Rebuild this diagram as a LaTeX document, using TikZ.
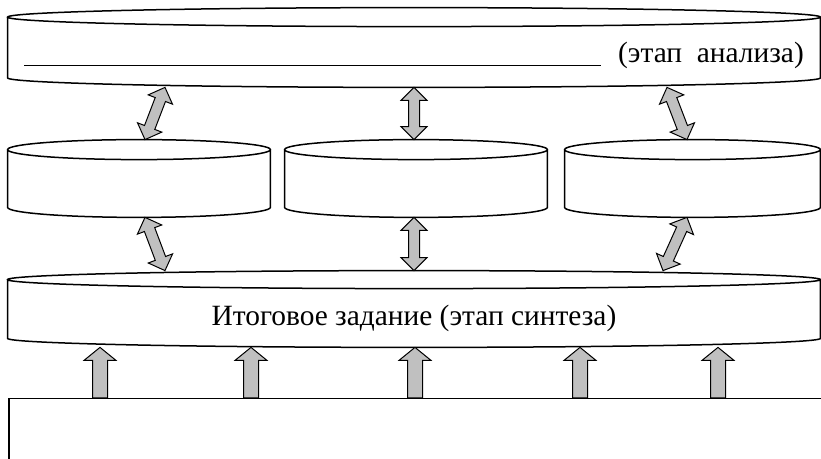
\documentclass[tikz,border=0pt]{standalone}
\usepackage{fontspec}
\setmainfont{Liberation Serif}
\usepackage{tikz}
\usetikzlibrary{calc}

\definecolor{arrgray}{HTML}{C0C0C0}

\tikzset{
  cyl/.style={inner sep=0pt},
  cylline/.style={draw=black,line width=0.75pt},
  blockarr/.style={draw=black,fill=arrgray,line width=0.5pt,line join=miter},
}

% double block arrow between two points
\newcommand{\dblarr}[2]{%
  \coordinate (da) at (#1);
  \coordinate (db) at (#2);
  \draw[blockarr] (da)
    -- ($(da)!6.5pt!(db)!6.5pt!90:(db)$) -- ($(da)!6.5pt!(db)!2.75pt!90:(db)$)
    -- ($(db)!6.5pt!(da)!2.75pt!-90:(da)$) -- ($(db)!6.5pt!(da)!6.5pt!-90:(da)$)
    -- (db)
    -- ($(db)!6.5pt!(da)!6.5pt!90:(da)$) -- ($(db)!6.5pt!(da)!2.75pt!90:(da)$)
    -- ($(da)!6.5pt!(db)!2.75pt!-90:(db)$) -- ($(da)!6.5pt!(db)!6.5pt!-90:(db)$)
    -- cycle;
}
% single block arrow, tail at #1, tip at #2
\newcommand{\sglarr}[2]{%
  \coordinate (sa) at (#1);
  \coordinate (sb) at (#2);
  \draw[blockarr] ($(sa)!3.75pt!90:(sb)$)
    -- ($(sb)!6.5pt!(sa)!3.75pt!-90:(sa)$) -- ($(sb)!6.5pt!(sa)!8pt!-90:(sa)$)
    -- (sb)
    -- ($(sb)!6.5pt!(sa)!8pt!90:(sa)$) -- ($(sb)!6.5pt!(sa)!3.75pt!90:(sa)$)
    -- ($(sa)!3.75pt!-90:(sb)$) -- cycle;
}

\begin{document}
\begin{tikzpicture}[x=0.5pt,y=-0.5pt,font=\rmfamily\fontsize{14.7pt}{17.6pt}\selectfont]
  \clip (0,0) rectangle (821,459);

  \node[cyl,minimum width=406pt,minimum height=39.5pt,text height=15.5pt,text depth=0pt] at (414,47.5) (ana)
    {\rule[-1.5pt]{288.5pt}{0.6pt}\hspace{8.5pt}(этап\ \ анализа)};
  \node[cyl,minimum width=131pt,minimum height=38.5pt] at (139,178.5) (part1) {};
  \node[cyl,minimum width=131pt,minimum height=38.5pt] at (416,178.5) (part2) {};
  \node[cyl,minimum width=127.5pt,minimum height=38.5pt] at (692.5,178.5) (part3) {};
  \node[cyl,minimum width=406pt,minimum height=38pt,text height=17pt,text depth=0pt] at (414,309) (syn)
    {Итоговое задание (этап синтеза)};
  \node[draw,line width=0.75pt,inner sep=0pt,minimum width=420pt,minimum height=40pt,anchor=north west] at (8,398) (src) {};

  % cylinder outlines round the nodes
  \foreach \cyl/\ry in {ana/4.75,part1/5,part2/5,part3/5,syn/4.5}
    \draw[cylline] let \p1=(\cyl.west), \p2=(\cyl.east), \n1={(\x2-\x1)/2} in
      ([yshift=-\ry pt]\cyl.north) ellipse [x radius=\n1,y radius=\ry pt]
      ([yshift=-\ry pt]\cyl.north west) -- ([yshift=\ry pt]\cyl.south west)
      arc [start angle=180,end angle=360,x radius=\n1,y radius=\ry pt]
      -- ([yshift=-\ry pt]\cyl.north east);

  \foreach \up/\dn/\xa/\xb in {ana/part1/165/145,ana/part2/414/414,ana/part3/667/687,
      part1/syn/145/165,part2/syn/414/414,part3/syn/687/663}
    {\dblarr{\up.south -| \xa,0}{\dn.north -| \xb,0}}

  \foreach \x in {100,251,415,580,718}
    {\sglarr{src.north -| \x,0}{syn.south -| \x,0}}

\end{tikzpicture}
\end{document}
